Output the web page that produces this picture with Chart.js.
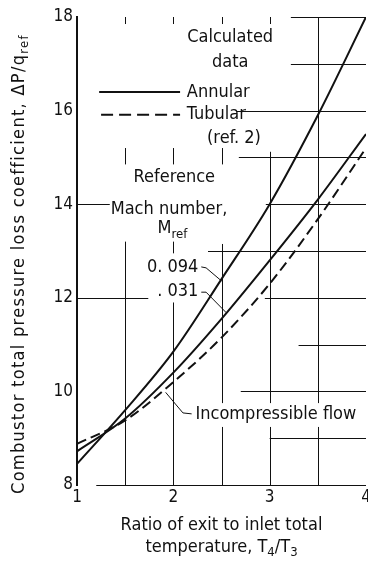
<!DOCTYPE html>
<html>
<head>
<meta charset="utf-8">
<script src="https://cdn.jsdelivr.net/npm/chart.js@4.4.1/dist/chart.umd.min.js"></script>
<style>
  html, body { margin: 0; padding: 0; background: #fff; }
  #wrap { width: 368px; height: 567px; }
</style>
</head>
<body>
<div id="wrap"><canvas id="lossChart" width="368" height="567"></canvas></div>
<script>
// ratio of exit to inlet total temperature, T4/T3
let tempRatio = [1, 1.5, 2, 2.5, 3, 3.5, 4];
// annular combustor, calculated, by reference Mach number
let annular094 = [8.45, 9.6, 10.85, 12.4, 14.0, 15.9, 18.0];
let annular031 = [8.72, 9.42, 10.4, 11.55, 12.8, 14.1, 15.5];
// tubular combustor (ref. 2)
let tubular = [8.88, 9.38, 10.2, 11.15, 12.3, 13.68, 15.2];

let xTicks = [1, 2, 3, 4];
let yTicks = [8, 10, 12, 14, 16, 18];

// grid pieces, broken where the notes sit: [value, from, to]
let gridRows = [
    [18, 3.22, 4], [17, 3.22, 4], [16, 2.66, 4], [15, 2.68, 4],
    [14, 1, 1.34], [14, 2.96, 4], [13, 2.36, 4],
    [12, 1, 1.74], [12, 2.95, 4], [11, 3.3, 4], [10, 2.7, 4],
    [9, 3.0, 4], [8, 1.2, 4]
];
let gridCols = [
    [1.5, 17.85, 18], [1.5, 14.85, 15.2], [1.5, 8, 13.2],
    [2, 17.85, 18], [2, 14.85, 15.2], [2, 12.95, 13.2], [2, 8, 11.9],
    [2.5, 17.85, 18], [2.5, 14.85, 15.2], [2.5, 9.75, 13.15], [2.5, 8, 9.24],
    [3, 17.85, 18], [3, 9.75, 15.12], [3, 8, 9.24],
    [3.5, 9.75, 18], [3.5, 8, 9.24]
];

const FONT = "'DejaVu Sans Condensed', 'Liberation Sans Narrow', 'DejaVu Sans', sans-serif";
const INK = '#111';

function toPoints(xs, ys) {
    return xs.map((x, i) => ({ x: x, y: ys[i] }));
}

// text with subscripts: parts = [[str, isSub], ...]
function richText(ctx, parts, x, y, align, size) {
    size = size || 18;
    let sub = Math.round(size * 0.72);
    let widths = parts.map((p) => {
        ctx.font = (p[1] ? sub : size) + 'px ' + FONT;
        return ctx.measureText(p[0]).width;
    });
    let total = widths.reduce((a, b) => a + b, 0);
    let cx = align == 'center' ? x - total / 2 : (align == 'right' ? x - total : x);
    parts.forEach((p, i) => {
        ctx.font = (p[1] ? sub : size) + 'px ' + FONT;
        ctx.textAlign = 'left';
        ctx.fillText(p[0], cx, p[1] ? y + size * 0.33 : y);
        cx += widths[i];
    });
}

let partialGrid = {
    id: 'partialGrid',
    beforeDatasetsDraw(chart) {
        let ctx = chart.ctx;
        let xs = chart.scales.x, ys = chart.scales.y;
        ctx.save();
        ctx.strokeStyle = INK;
        ctx.lineWidth = 1;
        ctx.beginPath();
        gridRows.forEach((r) => {
            let y = Math.round(ys.getPixelForValue(r[0])) + 0.5;
            ctx.moveTo(xs.getPixelForValue(r[1]), y);
            ctx.lineTo(xs.getPixelForValue(r[2]), y);
        });
        gridCols.forEach((c) => {
            let x = Math.round(xs.getPixelForValue(c[0])) + 0.5;
            ctx.moveTo(x, ys.getPixelForValue(c[1]));
            ctx.lineTo(x, ys.getPixelForValue(c[2]));
        });
        ctx.stroke();
        ctx.restore();
    }
};

let notes = {
    id: 'notes',
    afterDatasetsDraw(chart) {
        let ctx = chart.ctx;
        let xs = chart.scales.x, ys = chart.scales.y;
        let P = (x, y) => [xs.getPixelForValue(x), ys.getPixelForValue(y)];
        ctx.save();
        ctx.fillStyle = INK;
        ctx.strokeStyle = INK;
        ctx.textBaseline = 'middle';

        let label = (str, x, y, align) => {
            let p = P(x, y);
            ctx.font = '18px ' + FONT;
            ctx.textAlign = align;
            ctx.fillText(str, p[0], p[1]);
        };
        let path = (pts, width, dash) => {
            ctx.lineWidth = width;
            ctx.setLineDash(dash || []);
            ctx.beginPath();
            pts.forEach((q, i) => {
                let p = P(q[0], q[1]);
                if (i == 0) ctx.moveTo(p[0], p[1]); else ctx.lineTo(p[0], p[1]);
            });
            ctx.stroke();
            ctx.setLineDash([]);
        };

        // key
        label('Calculated', 2.59, 17.57, 'center');
        label('data', 2.59, 17.04, 'center');
        path([[1.23, 16.40], [2.07, 16.40]], 2);
        label('Annular', 2.14, 16.40, 'left');
        path([[1.25, 15.91], [2.07, 15.91]], 2, [12, 6]);
        label('Tubular', 2.14, 15.92, 'left');
        label('(ref. 2)', 2.35, 15.40, 'left');

        // Mach number notes
        label('Reference', 2.01, 14.58, 'center');
        label('Mach number,', 1.35, 13.88, 'left');
        let m = P(1.99, 13.48);
        richText(ctx, [['M', false], ['ref', true]], m[0], m[1], 'center');
        label('0. 094', 2.26, 12.66, 'right');
        label('. 031', 2.26, 12.14, 'right');
        path([[2.29, 12.66], [2.34, 12.64], [2.5, 12.36]], 1);
        path([[2.29, 12.12], [2.34, 12.12], [2.55, 11.68]], 1);

        label('Incompressible flow', 2.23, 9.52, 'left');
        path([[2.19, 9.52], [2.10, 9.54], [2.03, 9.71], [1.92, 9.98]], 1);

        // axis titles
        ctx.save();
        ctx.translate(19, 264);
        ctx.rotate(-Math.PI / 2);
        ctx.letterSpacing = '1.3px';
        richText(ctx, [['Combustor total pressure loss coefficient, \u0394P/q', false], ['ref', true]], 0, 0, 'center', 18);
        ctx.letterSpacing = '0px';
        ctx.restore();

        let cx = (chart.chartArea.left + chart.chartArea.right) / 2;
        richText(ctx, [['Ratio of exit to inlet total', false]], cx, 525, 'center');
        richText(ctx, [['temperature, T', false], ['4', true], ['/T', false], ['3', true]], cx, 547, 'center');
        ctx.restore();
    }
};

let ctx = document.getElementById('lossChart').getContext('2d');
let chart = new Chart(ctx, {
    type: 'line',
    data: {
        datasets: [{
            label: 'Annular, 0.094',
            data: toPoints(tempRatio, annular094),
            borderColor: INK,
            borderWidth: 2,
            pointRadius: 0,
            cubicInterpolationMode: 'monotone'
        }, {
            label: 'Annular, .031',
            data: toPoints(tempRatio, annular031),
            borderColor: INK,
            borderWidth: 2,
            pointRadius: 0,
            cubicInterpolationMode: 'monotone'
        }, {
            label: 'Tubular (ref. 2)',
            data: toPoints(tempRatio, tubular),
            borderColor: INK,
            borderWidth: 2,
            borderDash: [10, 5],
            pointRadius: 0,
            cubicInterpolationMode: 'monotone'
        }]
    },
    options: {
        responsive: false,
        animation: false,
        layout: { padding: { top: 17, right: 2, left: 0, bottom: 0 } },
        plugins: {
            legend: { display: false },
            tooltip: { enabled: false }
        },
        scales: {
            x: {
                type: 'linear',
                min: 1,
                max: 4,
                afterFit: (scale) => { scale.height = 82; scale.paddingRight = 0; },
                afterBuildTicks: (scale) => { scale.ticks = xTicks.map((v) => ({ value: v })); },
                ticks: { color: INK, font: { family: FONT, size: 17 }, padding: 2 },
                grid: { display: false, drawTicks: false },
                border: { display: false }
            },
            y: {
                min: 8,
                max: 18,
                afterFit: (scale) => { scale.width = 77; },
                afterBuildTicks: (scale) => { scale.ticks = yTicks.map((v) => ({ value: v })); },
                ticks: { color: INK, font: { family: FONT, size: 17 }, padding: 4 },
                grid: { display: false, drawTicks: false },
                border: { display: true, color: INK, width: 2 }
            }
        }
    },
    plugins: [partialGrid, notes]
});
</script>
</body>
</html>
